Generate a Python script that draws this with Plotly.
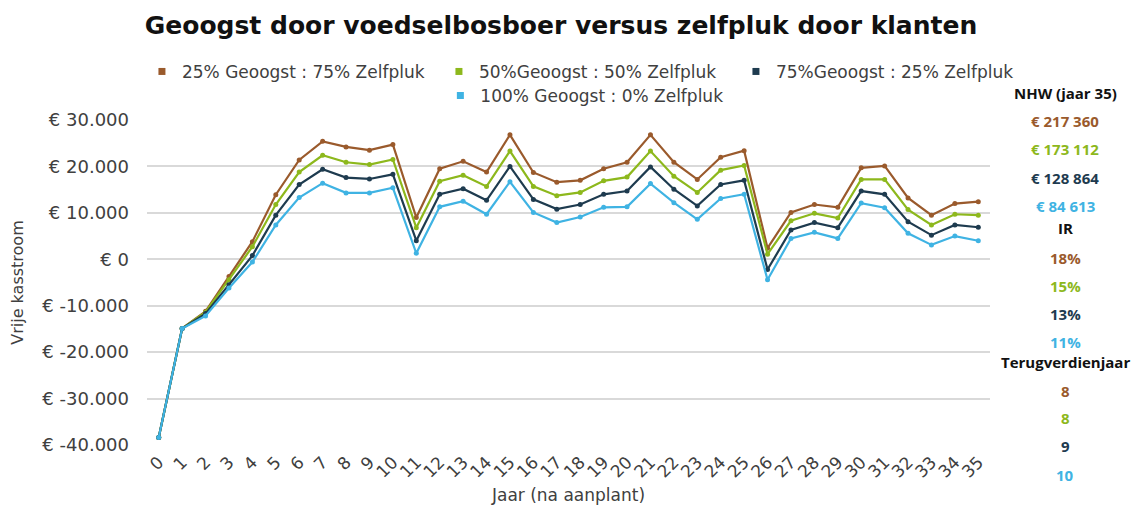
import plotly.graph_objects as go

years = list(range(36))
year_labels = [str(y) for y in years]

s25 = [-38400, -14900, -11200, -3700, 3800, 13900, 21400, 25400, 24200, 23500, 24700, 9000,
       19500, 21100, 18800, 26800, 18700, 16600, 17000, 19500, 20900, 26800, 20900, 17200,
       22000, 23400, 2400, 10100, 11800, 11200, 19700, 20100, 13200, 9500, 12000, 12400]
s50 = [-38400, -14900, -11400, -4400, 2700, 11800, 18800, 22400, 20900, 20400, 21500, 6800,
       16800, 18100, 15700, 23300, 15700, 13700, 14400, 16900, 17700, 23300, 17900, 14400,
       19200, 20200, 1100, 8300, 9900, 8900, 17200, 17200, 10700, 7400, 9700, 9500]
s75 = [-38400, -14900, -11700, -5500, 800, 9500, 16100, 19400, 17600, 17300, 18300, 4000,
       14000, 15200, 12700, 20000, 12900, 10800, 11800, 14000, 14700, 19900, 15100, 11500,
       16100, 17000, -2200, 6300, 7900, 6800, 14700, 14000, 8100, 5200, 7400, 6900]
s100 = [-38400, -14900, -12200, -6200, -600, 7400, 13300, 16400, 14300, 14300, 15400, 1300,
        11300, 12500, 9700, 16700, 10100, 7900, 9100, 11200, 11300, 16300, 12200, 8600,
        13100, 14000, -4400, 4500, 5800, 4500, 12100, 11100, 5600, 3100, 5000, 4000]

series_names = ["25% Geoogst : 75% Zelfpluk", "50%Geoogst : 50% Zelfpluk",
                "75%Geoogst : 25% Zelfpluk", "100% Geoogst : 0% Zelfpluk"]
series_values = [s25, s50, s75, s100]
colors = ["#9a5a2c", "#8db81c", "#1e3b4f", "#3fb3e3"]
legend_ids = ["legend", "legend", "legend", "legend2"]

y_tickvals = [30000, 20000, 10000, 0, -10000, -20000, -30000, -40000]
y_ticktext = ["€ 30.000", "€ 20.000", "€ 10.000", "€ 0", "€ -10.000", "€ -20.000", "€ -30.000", "€ -40.000"]

npv_labels = ["€ 217 360", "€ 173 112", "€ 128 864", "€ 84 613"]
irr_labels = ["18%", "15%", "13%", "11%"]
payback_labels = ["8", "8", "9", "10"]

fig = go.Figure()
for name, vals, col in zip(series_names, series_values, colors):
    fig.add_trace(go.Scatter(
        x=year_labels, y=vals, name=name, mode="lines+markers", showlegend=False,
        line=dict(color=col, width=2.2), marker=dict(color=col, size=5),
    ))
# legend entries with square keys
for name, col, lg in zip(series_names, colors, legend_ids):
    fig.add_trace(go.Scatter(
        x=[None], y=[None], name=name, mode="markers", legend=lg,
        marker=dict(color=col, size=7, symbol="square"),
    ))

main_font = "DejaVu Sans, Open Sans, sans-serif"
ann_font = "Open Sans, Noto Sans, sans-serif"

fig.update_layout(
    width=1140, height=512,
    margin=dict(l=147, r=150, t=120, b=67),
    paper_bgcolor="white", plot_bgcolor="white",
    font=dict(family=main_font, size=15, color="#404040"),
    title=dict(text="<b>Geoogst door voedselbosboer versus zelfpluk door klanten</b>",
               x=(561 - 147) / 843, xref="paper", xanchor="center", y=0.95, yanchor="middle",
               font=dict(family=main_font, size=25, color="#111111")),
    legend=dict(orientation="h", x=-0.006, xanchor="left", y=1.148, yanchor="middle",
                font=dict(family=main_font, size=17, color="#404040"), entrywidth=252,
                entrywidthmode="pixels", itemwidth=30, bgcolor="rgba(0,0,0,0)"),
    legend2=dict(orientation="h", x=0.348, xanchor="left", y=1.074, yanchor="middle",
                 font=dict(family=main_font, size=17, color="#404040"), itemwidth=30,
                 bgcolor="rgba(0,0,0,0)"),
    showlegend=True,
    xaxis=dict(type="category", range=[-0.5, 35.5], tickangle=-45, automargin=False,
               tickfont=dict(family=main_font, size=17, color="#404040"), showgrid=False,
               showline=False, ticks="", ticklabelstandoff=3,
               title=dict(text="Jaar (na aanplant)", font=dict(family=main_font, size=17, color="#404040"), standoff=8)),
    yaxis=dict(range=[-40000, 30000], tickvals=y_tickvals, ticktext=y_ticktext,
               tickfont=dict(family=main_font, size=18, color="#404040"), showgrid=True,
               gridcolor="#d9d9d9", gridwidth=1.5, zeroline=False, showline=False, ticks="",
               ticklabelstandoff=17,
               title=dict(text="Vrije kasstroom", font=dict(family=main_font, size=16, color="#404040"), standoff=14)),
)

ann_x = (1065 - 147) / 843
def add_ann(text, y, color, size=15):
    fig.add_annotation(text=f"<b>{text}</b>", x=ann_x, y=y, xref="paper", yref="paper",
                       showarrow=False, xanchor="center", yanchor="middle",
                       font=dict(size=size, color=color, family=ann_font))

add_ann("NHW (jaar 35)", 1.083, "#111111")
for lab, y, c in zip(npv_labels, [0.997, 0.911, 0.822, 0.735], colors):
    add_ann(lab, y, c)
add_ann("IR", 0.668, "#111111")
for lab, y, c in zip(irr_labels, [0.575, 0.489, 0.403, 0.317], colors):
    add_ann(lab, y, c)
add_ann("Terugverdienjaar", 0.255, "#111111")
for lab, y, c in zip(payback_labels, [0.166, 0.083, -0.003, -0.092], colors):
    add_ann(lab, y, c)

fig.write_html("out.html", config={"displayModeBar": False},
               post_script="document.body.style.margin='0px';")
